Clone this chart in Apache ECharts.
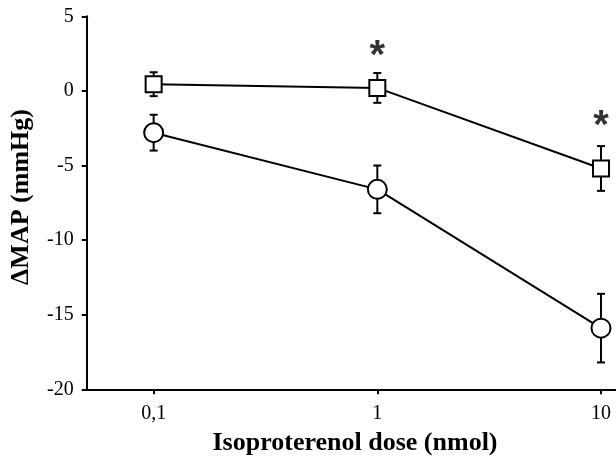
<!DOCTYPE html>
<html>
<head>
<meta charset="utf-8">
<script src="https://cdn.jsdelivr.net/npm/echarts@6/dist/echarts.min.js"></script>
<style>html,body{margin:0;padding:0;background:#fff}#c{width:616px;height:458px}</style>
</head>
<body>
<div id="c"></div>
<script>
// Data
var doses = [0.1, 1, 10];
var doseLabels = ['0,1', '1', '10'];
var squareMean = [0.45, 0.2, -5.2];
var squareErr = [0.8, 1.0, 1.5];
var circleMean = [-2.8, -6.6, -15.9];
var circleErr = [1.2, 1.6, 2.3];
var starDoses = [1, 10];
var starY = [2.9, -1.8];
var xTitle = 'Isoproterenol dose (nmol)';
var yTitle = 'ΔMAP (mmHg)';

var FONT = '"Liberation Serif", "Times New Roman", serif';

function errData(mean, err) {
  return doses.map(function (d, i) { return [d, mean[i] - err[i], mean[i] + err[i]]; });
}
function errSeries(mean, err) {
  return {
    type: 'custom',
    z: 1,
    silent: true,
    data: errData(mean, err),
    renderItem: function (params, api) {
      var lo = api.coord([api.value(0), api.value(1)]);
      var hi = api.coord([api.value(0), api.value(2)]);
      var w = 4;
      var st = { stroke: '#000', lineWidth: 2 };
      return {
        type: 'group',
        children: [
          { type: 'line', shape: { x1: lo[0], y1: lo[1], x2: hi[0], y2: hi[1] }, style: st },
          { type: 'line', shape: { x1: lo[0] - w, y1: lo[1], x2: lo[0] + w, y2: lo[1] }, style: st },
          { type: 'line', shape: { x1: hi[0] - w, y1: hi[1], x2: hi[0] + w, y2: hi[1] }, style: st }
        ]
      };
    }
  };
}
function pairs(mean) { return doses.map(function (d, i) { return [d, mean[i]]; }); }

var chart = echarts.init(document.getElementById('c'), null, { renderer: 'canvas' });
chart.setOption({
  animation: false,
  backgroundColor: '#fff',
  grid: { left: 86.7, right: 0, top: 16.3, bottom: 68.7, containLabel: false },
  xAxis: {
    type: 'log',
    logBase: 10,
    min: 0.0502,
    max: 11.67,
    axisLine: { onZero: false, lineStyle: { color: '#000', width: 2 } },
    axisTick: { show: true, length: 5, inside: false, customValues: doses, lineStyle: { color: '#000', width: 2 } },
    axisLabel: {
      customValues: doses,
      margin: 14,
      color: '#000',
      fontFamily: FONT,
      fontSize: 20,
      formatter: function (v) {
        for (var i = 0; i < doses.length; i++) if (Math.abs(doses[i] - v) < 1e-9 * Math.max(1, v)) return doseLabels[i];
        return '';
      }
    },
    splitLine: { show: false },
    minorTick: { show: false }
  },
  yAxis: {
    type: 'value',
    min: -20,
    max: 5,
    interval: 5,
    axisLine: { show: true, lineStyle: { color: '#000', width: 2 } },
    axisTick: { show: true, length: 5, lineStyle: { color: '#000', width: 2 } },
    axisLabel: { margin: 13, color: '#000', fontFamily: FONT, fontSize: 20 },
    splitLine: { show: false }
  },
  graphic: [
    {
      type: 'text', x: 355, y: 443,
      style: { text: xTitle, font: 'bold 26px ' + FONT, fill: '#000', align: 'center', verticalAlign: 'middle' }
    },
    {
      type: 'text', x: 21, y: 197, rotation: Math.PI / 2,
      style: { text: yTitle, font: 'bold 26px ' + FONT, fill: '#000', align: 'center', verticalAlign: 'middle' }
    }
  ],
  series: [
    errSeries(squareMean, squareErr),
    errSeries(circleMean, circleErr),
    {
      type: 'line',
      z: 3,
      data: pairs(squareMean),
      symbol: 'rect',
      symbolSize: 16,
      showAllSymbol: true,
      lineStyle: { color: '#000', width: 2 },
      itemStyle: { color: '#fff', borderColor: '#000', borderWidth: 2 }
    },
    {
      type: 'line',
      z: 3,
      data: pairs(circleMean),
      symbol: 'circle',
      symbolSize: 19,
      showAllSymbol: true,
      lineStyle: { color: '#000', width: 2 },
      itemStyle: { color: '#fff', borderColor: '#000', borderWidth: 2 }
    },
    {
      type: 'scatter',
      z: 4,
      symbolSize: 1,
      itemStyle: { color: 'rgba(0,0,0,0)' },
      data: starDoses.map(function (d, i) { return [d, starY[i]]; }),
      label: {
        show: true,
        position: 'inside',
        formatter: '*',
        color: '#000',
        fontFamily: '"Liberation Sans", Arial, sans-serif',
        fontWeight: 'bold',
        fontSize: 40,
        offset: [0, 9]
      }
    }
  ]
});
</script>
</body>
</html>
